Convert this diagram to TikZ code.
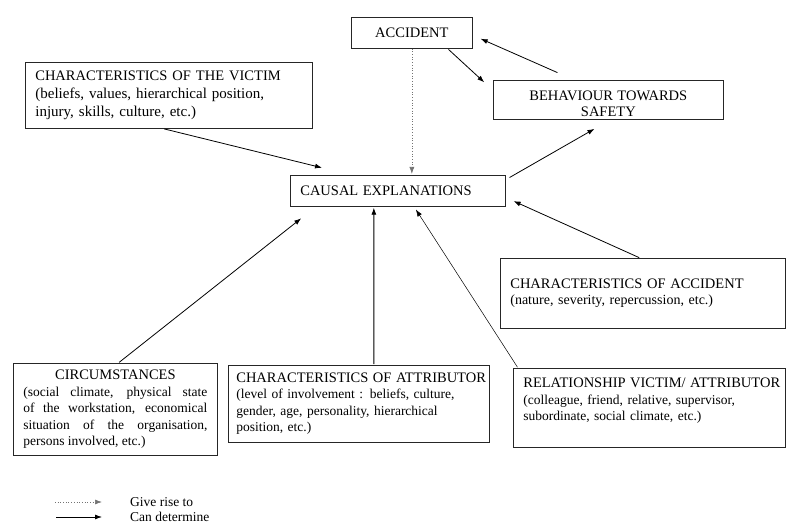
\documentclass[tikz,border=0pt]{standalone}
\usepackage{fontspec}
\setmainfont{Liberation Serif}
\usetikzlibrary{positioning,arrows.meta}
\newcommand{\boxhead}[1]{{\fontsize{14.5bp}{16.5bp}\selectfont #1}}
\hbadness=10000
\hfuzz=20pt

\begin{document}
\begin{tikzpicture}[x=1bp, y=-1bp,
    every node/.style={font=\fontsize{13.5bp}{16.5bp}\selectfont},
    box/.style={draw=black!85, line width=.7bp, inner xsep=10bp, inner ysep=2bp, anchor=north west},
    cause/.style={-{Latex[length=7bp,width=5bp]}, line width=.8bp, shorten <=1bp, shorten >=1bp},
    rise/.style={-{Latex[length=7bp,width=5bp]}, black!55, dotted, line width=.7bp, shorten >=1bp}]
    \useasboundingbox (0,0) rectangle (786,526);

    \node[box, minimum width=121bp, minimum height=31bp, align=center] (accident) at (351,17) {\boxhead{ACCIDENT}};
    \node[box, text width=210bp, minimum height=38bp, align=center] (behaviour) at (493,80) {\boxhead{\rule{0pt}{18bp}BEHAVIOUR TOWARDS\\SAFETY}};
    \node[box, text width=267bp, minimum height=66bp, align=left, font=\fontsize{15bp}{18bp}\selectfont] (victim) at (25,62) {\boxhead{CHARACTERISTICS OF THE VICTIM}\\(beliefs, values, hierarchical position,\\injury, skills, culture, etc.)};
    \node[box, text width=195bp, minimum height=31bp, align=left] (causal) at (290,175) {\boxhead{CAUSAL EXPLANATIONS}};
    \node[box, text width=265bp, minimum height=70bp, align=left, font=\fontsize{14bp}{16.5bp}\selectfont] (accchar) at (500,258) {\boxhead{CHARACTERISTICS OF ACCIDENT}\\(nature, severity, repercussion, etc.)};

    \node[box, text width=184bp, minimum height=92bp, align=justify] (circum) at (13,363) {{\centering\noindent\boxhead{CIRCUMSTANCES}\par}\noindent(social climate, physical state\linebreak of the workstation, economical\linebreak situation of the organisation,\linebreak persons involved, etc.)};
    \node[box, text width=245bp, inner xsep=8bp, minimum height=77bp, align=left] (attrib) at (228,365) {\boxhead{\mbox{CHARACTERISTICS OF ATTRIBUTOR}}\\(level of involvement : beliefs, culture,\\gender, age, personality, hierarchical\\position, etc.)};
    \node[box, text width=252bp, minimum height=79bp, align=left] (relation) at (513,368) {\boxhead{\mbox{RELATIONSHIP VICTIM/ ATTRIBUTOR}}\\(colleague, friend, relative, supervisor,\\subordinate, social climate, etc.)\\\mbox{}};

    % legend
    \coordinate (giveA) at (55,502);
    \coordinate (giveB) at (103,502);
    \coordinate (canA) at (55,517);
    \coordinate (canB) at (103,517);
    \node[inner sep=0pt, right=27bp of giveB] (give) {Give rise to};
    \node[inner sep=0pt, right=27bp of canB] (can) {Can determine};

    \draw[rise] (accident.south) -- (accident.south |- causal.north);
    \draw[cause] ([xshift=-25bp]accident.south east) -- ([xshift=-8bp,yshift=-3bp]behaviour.north west);
    \draw[cause] ([xshift=-50bp,yshift=7bp]behaviour.north) -- ([xshift=7bp,yshift=-5.5bp]accident.east);
    \draw[cause] ([xshift=-5.5bp]victim.south) -- ([xshift=33bp,yshift=7bp]causal.north west);
    \draw[cause] ([xshift=3bp,yshift=-3bp]causal.north east) -- ([xshift=-13bp,yshift=-9bp]behaviour.south);
    \draw[cause] ([xshift=140bp]accchar.north west) -- ([xshift=7bp,yshift=6bp]causal.south east);
    \draw[cause] ([xshift=3bp]circum.north) -- ([xshift=12bp,yshift=-11bp]causal.south west);
    \draw[cause] ([xshift=15bp]attrib.north) -- ([xshift=-24bp]causal.south);
    \draw[cause, line width=.5bp] ([xshift=5bp]relation.north west) -- ([xshift=17.5bp,yshift=-2bp]causal.south);

    \draw[rise] (giveA) -- (giveB);
    \draw[cause] (canA) -- (canB);
\end{tikzpicture}
\end{document}
